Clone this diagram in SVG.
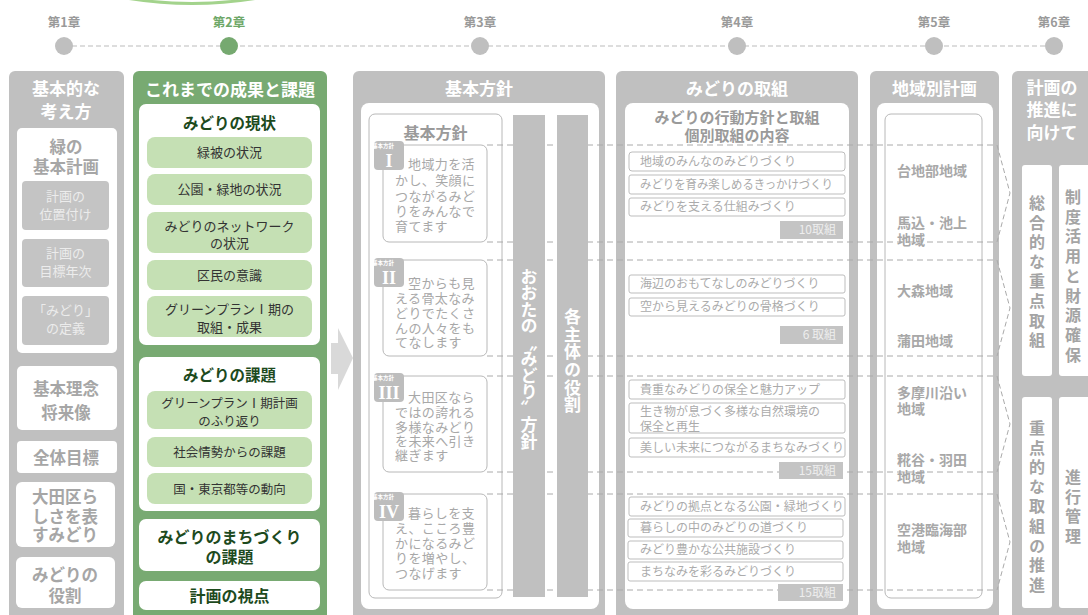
<svg xmlns="http://www.w3.org/2000/svg" width="1088" height="615" viewBox="0 0 1088 615">
<style>
text{font-family:"Noto Sans CJK JP","Noto Sans",sans-serif;}
.tl{font-size:12.5px;font-weight:bold;fill:#9a9a9a;text-anchor:middle;}
.frame{fill:#c0c0c0;}
.wt{fill:#ffffff;}
.ttl{font-size:17px;font-weight:bold;fill:#ffffff;text-anchor:middle;}
.g1{font-size:16.5px;font-weight:bold;fill:#a6a6a6;text-anchor:middle;}
.sub{fill:#c4c4c4;}
.subt{font-size:13px;fill:#ececec;text-anchor:middle;}
.lg{fill:#c5e0b4;}
.gt{font-size:13px;fill:#333333;text-anchor:middle;}
.gh{font-size:15.5px;font-weight:bold;fill:#1d4a1d;text-anchor:middle;}
.gh2{font-size:16px;font-weight:bold;fill:#1d4a1d;text-anchor:middle;}
.ol{fill:#ffffff;stroke:#b8b8b8;stroke-width:1;}
.hd{font-size:15px;font-weight:bold;fill:#9a9a9a;text-anchor:middle;}
.pt{font-size:13px;fill:#a8a8a8;letter-spacing:0.4px;}
.badge{fill:#bdbdbd;}
.bs{font-size:5.5px;font-weight:bold;fill:#ffffff;text-anchor:middle;}
.rn{font-family:"Liberation Serif",serif;font-size:18px;font-weight:bold;fill:#ffffff;text-anchor:middle;}
.bar{fill:#c0c0c0;}
.vt{font-size:17px;font-weight:bold;fill:#ffffff;writing-mode:vertical-rl;text-orientation:upright;}
.it{fill:#ffffff;stroke:#bdbdbd;stroke-width:1;}
.itt{font-size:12px;fill:#ababab;}
.cnt{fill:#c4c4c4;}
.cntt{font-size:12px;fill:#eeeeee;text-anchor:end;}
.rg{font-size:14px;font-weight:bold;fill:#a8a8a8;}
.vg{font-size:16px;font-weight:bold;fill:#a4a4a4;writing-mode:vertical-rl;text-orientation:upright;}
.dash{fill:none;stroke:#aaaaaa;stroke-width:1;stroke-dasharray:6 4;}
</style>

<!-- timeline -->
<g id="timeline">
  <path d="M126,-2 Q192,9 258,-2" fill="none" stroke="#a3d38c" stroke-width="3"/>
  <line x1="64" y1="46" x2="1054" y2="46" stroke="#bbbbbb" stroke-width="1.2" stroke-dasharray="5 3"/>
  <circle cx="64" cy="46" r="9" fill="#bfbfbf"/>
  <circle cx="229" cy="46" r="9" fill="#76a970"/>
  <circle cx="480" cy="46" r="9" fill="#bfbfbf"/>
  <circle cx="737" cy="46" r="9" fill="#bfbfbf"/>
  <circle cx="934" cy="46" r="9" fill="#bfbfbf"/>
  <circle cx="1054" cy="46" r="9" fill="#bfbfbf"/>
  <text class="tl" x="64" y="27">第1章</text>
  <text class="tl" x="229" y="27" style="fill:#6fa869">第2章</text>
  <text class="tl" x="480" y="27">第3章</text>
  <text class="tl" x="737" y="27">第4章</text>
  <text class="tl" x="934" y="27">第5章</text>
  <text class="tl" x="1054" y="27">第6章</text>
</g>

<!-- column 1 -->
<g id="col1">
  <rect class="frame" x="9" y="71" width="115" height="560" rx="6"/>
  <text class="ttl" x="66" y="95">基本的な</text>
  <text class="ttl" x="66" y="118">考え方</text>
  <rect class="wt" x="17" y="128" width="100" height="225" rx="5"/>
  <text class="g1" x="66" y="153">緑の</text>
  <text class="g1" x="66" y="173">基本計画</text>
  <rect class="sub" x="22" y="181" width="87" height="49" rx="4"/>
  <text class="subt" x="65.5" y="200.5">計画の</text>
  <text class="subt" x="65.5" y="218.5">位置付け</text>
  <rect class="sub" x="22" y="239" width="87" height="48" rx="4"/>
  <text class="subt" x="65.5" y="258">計画の</text>
  <text class="subt" x="65.5" y="276">目標年次</text>
  <rect class="sub" x="22" y="296" width="87" height="49" rx="4"/>
  <text class="subt" x="65.5" y="315">「みどり」</text>
  <text class="subt" x="65.5" y="333">の定義</text>
  <rect class="wt" x="17" y="366" width="100" height="64" rx="5"/>
  <text class="g1" x="66" y="395">基本理念</text>
  <text class="g1" x="66" y="419">将来像</text>
  <rect class="wt" x="17" y="441" width="100" height="32" rx="4"/>
  <text class="g1" x="66" y="464">全体目標</text>
  <rect class="wt" x="16" y="482" width="99" height="65" rx="6"/>
  <text class="g1" x="65" y="503">大田区ら</text>
  <text class="g1" x="65" y="523">しさを表</text>
  <text class="g1" x="65" y="541">すみどり</text>
  <rect class="wt" x="16" y="557" width="99" height="51" rx="6"/>
  <text class="g1" x="65" y="581">みどりの</text>
  <text class="g1" x="65" y="602">役割</text>
</g>

<!-- column 2 -->
<g id="col2">
  <rect x="133" y="71" width="194" height="560" rx="6" fill="#78aa72"/>
  <text class="ttl" x="230" y="96">これまでの成果と課題</text>
  <rect class="wt" x="139" y="104" width="181" height="241" rx="7"/>
  <text class="gh" x="229.5" y="128.5">みどりの現状</text>
  <rect class="lg" x="147" y="137" width="165" height="31" rx="8"/>
  <text class="gt" x="229.5" y="157">緑被の状況</text>
  <rect class="lg" x="147" y="174" width="165" height="31" rx="8"/>
  <text class="gt" x="229.5" y="194">公園・緑地の状況</text>
  <rect class="lg" x="147" y="212" width="165" height="41" rx="8"/>
  <text class="gt" x="229.5" y="230.5">みどりのネットワーク</text>
  <text class="gt" x="229.5" y="247.5">の状況</text>
  <rect class="lg" x="147" y="260" width="165" height="30" rx="8"/>
  <text class="gt" x="229.5" y="279.5">区民の意識</text>
  <rect class="lg" x="147" y="296" width="165" height="41" rx="8"/>
  <text class="gt" x="229.5" y="313.5">グリーンプランⅠ期の</text>
  <text class="gt" x="229.5" y="331.5">取組・成果</text>

  <rect class="wt" x="139" y="357" width="181" height="154" rx="7"/>
  <text class="gh" x="229.5" y="380.5">みどりの課題</text>
  <rect class="lg" x="147" y="391" width="165" height="38" rx="8"/>
  <text class="gt" x="229.5" y="407.5" style="font-size:12.5px">グリーンプランⅠ期計画</text>
  <text class="gt" x="229.5" y="425.5" style="font-size:12.5px">のふり返り</text>
  <rect class="lg" x="147" y="437" width="165" height="30" rx="8"/>
  <text class="gt" x="229.5" y="456.5" style="font-size:12.5px">社会情勢からの課題</text>
  <rect class="lg" x="147" y="473" width="165" height="31" rx="8"/>
  <text class="gt" x="229.5" y="493.5" style="font-size:12.5px">国・東京都等の動向</text>

  <rect class="wt" x="139" y="519" width="181" height="52" rx="7"/>
  <text class="gh2" x="229.5" y="542.5">みどりのまちづくり</text>
  <text class="gh2" x="229.5" y="562.5">の課題</text>
  <rect class="wt" x="139" y="581" width="181" height="29" rx="7"/>
  <text class="gh2" x="229.5" y="601.5">計画の視点</text>
</g>

<!-- arrow -->
<g id="arrow">
  <polygon points="331,343 338,343 338,328 353,358 338,390 338,374 331,374" fill="#d9d9d9"/>
</g>

<!-- column 3 backgrounds -->
<g id="col3">
  <rect class="frame" x="353" y="71" width="252" height="560" rx="6"/>
  <text class="ttl" x="479" y="95">基本方針</text>
  <rect class="wt" x="361" y="103" width="238" height="506" rx="8"/>
  <rect class="ol" x="369" y="114" width="133" height="484" rx="6"/>
  <text class="hd" x="435.5" y="138.5" style="font-size:16px">基本方針</text>
</g>

<!-- column 4 backgrounds -->
<g id="col4">
  <rect class="frame" x="616" y="71" width="242" height="560" rx="6"/>
  <text class="ttl" x="737" y="95">みどりの取組</text>
  <rect class="wt" x="625" y="103" width="224" height="506" rx="8"/>
  <text class="hd" x="737" y="123">みどりの行動方針と取組</text>
  <text class="hd" x="737" y="141">個別取組の内容</text>
</g>

<!-- column 5 backgrounds -->
<g id="col5">
  <rect class="frame" x="870" y="71" width="129" height="560" rx="6"/>
  <text class="ttl" x="934.5" y="95">地域別計画</text>
  <rect class="wt" x="877" y="103" width="116" height="506" rx="8"/>
  <rect class="ol" x="885" y="114" width="97" height="484" rx="6"/>
</g>

<!-- column 6 -->
<g id="col6">
  <rect class="frame" x="1012" y="71" width="100" height="560" rx="6"/>
  <text class="ttl" x="1052" y="94">計画の</text>
  <text class="ttl" x="1052" y="116">推進に</text>
  <text class="ttl" x="1052" y="139">向けて</text>
  <rect class="wt" x="1022" y="165" width="30" height="211" rx="3"/>
  <rect class="wt" x="1059" y="165" width="40" height="211" rx="3"/>
  <rect class="wt" x="1022" y="397" width="30" height="211" rx="3"/>
  <rect class="wt" x="1059" y="397" width="40" height="211" rx="3"/>
  <text class="vg" x="1037" y="195" style="letter-spacing:3.6px">総合的な重点取組</text>
  <text class="vg" x="1073" y="189" style="letter-spacing:3.7px">制度活用と財源確保</text>
  <text class="vg" x="1037" y="420" style="letter-spacing:3.6px">重点的な取組の推進</text>
  <text class="vg" x="1073" y="469" style="letter-spacing:3.5px">進行管理</text>
</g>

<!-- connectors -->
<g id="connectors">
  <line class="dash" x1="487" y1="145" x2="997" y2="145"/>
  <line class="dash" x1="487" y1="242" x2="997" y2="242"/>
  <line class="dash" x1="487" y1="260" x2="997" y2="260"/>
  <line class="dash" x1="487" y1="356" x2="997" y2="356"/>
  <line class="dash" x1="487" y1="376" x2="997" y2="376"/>
  <line class="dash" x1="487" y1="472" x2="997" y2="472"/>
  <line class="dash" x1="487" y1="494" x2="997" y2="494"/>
  <line class="dash" x1="487" y1="590" x2="997" y2="590"/>
  <polyline class="dash" points="997,145 1010,193 997,242" style="stroke-dasharray:5 3"/>
  <polyline class="dash" points="997,260 1010,308 997,356" style="stroke-dasharray:5 3"/>
  <polyline class="dash" points="997,376 1010,424 997,472" style="stroke-dasharray:5 3"/>
  <polyline class="dash" points="997,494 1010,542 997,590" style="stroke-dasharray:5 3"/>
</g>

<!-- vertical bars -->
<g id="bar-ota">
  <rect class="bar" x="513" y="115" width="32" height="482"/>
  <text class="vt" x="529" y="268" style="letter-spacing:-0.5px">おおたの〝みどり〟方針</text>
</g>
<g id="bar-actors">
  <rect class="bar" x="557" y="115" width="31" height="482"/>
  <text class="vt" x="572.5" y="308" style="letter-spacing:0.7px">各主体の役割</text>
</g>

<!-- policies -->
<g id="policy1">
  <rect class="ol" x="383" y="145" width="104" height="97" rx="6"/>
  <rect class="badge" x="374" y="141" width="30" height="29" rx="4"/>
  <text class="bs" x="383" y="148">基本方針</text>
  <text class="rn" x="389" y="167">I</text>
  <text class="pt" x="408" y="169">地域力を活</text>
  <text class="pt" x="395" y="185">かし、笑顔に</text>
  <text class="pt" x="395" y="201">つながるみど</text>
  <text class="pt" x="395" y="216">りをみんなで</text>
  <text class="pt" x="395" y="231">育てます</text>
</g>
<g id="policy2">
  <rect class="ol" x="383" y="260" width="104" height="96" rx="6"/>
  <rect class="badge" x="374" y="258" width="30" height="29" rx="4"/>
  <text class="bs" x="383" y="265">基本方針</text>
  <text class="rn" x="389" y="284">II</text>
  <text class="pt" x="408" y="288">空からも見</text>
  <text class="pt" x="395" y="303">える骨太なみ</text>
  <text class="pt" x="395" y="318">どりでたくさ</text>
  <text class="pt" x="395" y="333">んの人々をも</text>
  <text class="pt" x="395" y="347">てなします</text>
</g>
<g id="policy3">
  <rect class="ol" x="383" y="376" width="104" height="96" rx="6"/>
  <rect class="badge" x="374" y="373" width="30" height="29" rx="4"/>
  <text class="bs" x="383" y="380">基本方針</text>
  <text class="rn" x="389" y="399">III</text>
  <text class="pt" x="408" y="402">大田区なら</text>
  <text class="pt" x="395" y="417">ではの誇れる</text>
  <text class="pt" x="395" y="432">多様なみどり</text>
  <text class="pt" x="395" y="446">を未来へ引き</text>
  <text class="pt" x="395" y="460">継ぎます</text>
</g>
<g id="policy4">
  <rect class="ol" x="383" y="494" width="104" height="96" rx="6"/>
  <rect class="badge" x="374" y="492" width="30" height="29" rx="4"/>
  <text class="bs" x="383" y="499">基本方針</text>
  <text class="rn" x="389" y="518">IV</text>
  <text class="pt" x="408" y="518">暮らしを支</text>
  <text class="pt" x="395" y="533">え、こころ豊</text>
  <text class="pt" x="395" y="548">かになるみど</text>
  <text class="pt" x="395" y="563">りを増やし、</text>
  <text class="pt" x="395" y="578">つなげます</text>
</g>

<!-- actions -->
<g id="actions1">
  <rect class="it" x="629" y="152" width="216" height="19" rx="3"/>
  <text class="itt" x="640" y="166">地域のみんなのみどりづくり</text>
  <rect class="it" x="629" y="175" width="216" height="19" rx="2"/>
  <text class="itt" x="640" y="189" textLength="193" lengthAdjust="spacingAndGlyphs">みどりを育み楽しめるきっかけづくり</text>
  <rect class="it" x="629" y="198" width="216" height="18" rx="2"/>
  <text class="itt" x="640" y="211">みどりを支える仕組みづくり</text>
  <rect class="cnt" x="780" y="221" width="63" height="18"/>
  <text class="cntt" x="836" y="234">10取組</text>
</g>
<g id="actions2">
  <rect class="it" x="629" y="275" width="216" height="18" rx="2"/>
  <text class="itt" x="640" y="288">海辺のおもてなしのみどりづくり</text>
  <rect class="it" x="629" y="298" width="216" height="18" rx="2"/>
  <text class="itt" x="640" y="311">空から見えるみどりの骨格づくり</text>
  <rect class="cnt" x="780" y="326" width="63" height="18"/>
  <text class="cntt" x="836" y="339">6 取組</text>
</g>
<g id="actions3">
  <rect class="it" x="629" y="380" width="216" height="19" rx="2"/>
  <text class="itt" x="640" y="394">貴重なみどりの保全と魅力アップ</text>
  <rect class="it" x="629" y="403" width="216" height="30" rx="2"/>
  <text class="itt" x="640" y="416">生き物が息づく多様な自然環境の</text>
  <text class="itt" x="640" y="431">保全と再生</text>
  <rect class="it" x="629" y="438" width="216" height="19" rx="2"/>
  <text class="itt" x="640" y="452">美しい未来につながるまちなみづくり</text>
  <rect class="cnt" x="779" y="462" width="64" height="17"/>
  <text class="cntt" x="836" y="475">15取組</text>
</g>
<g id="actions4">
  <rect class="it" x="629" y="497" width="216" height="19" rx="2"/>
  <text class="itt" x="640" y="511">みどりの拠点となる公園・緑地づくり</text>
  <rect class="it" x="628" y="519" width="215" height="18" rx="2"/>
  <text class="itt" x="640" y="532">暮らしの中のみどりの道づくり</text>
  <rect class="it" x="628" y="541" width="215" height="18" rx="2"/>
  <text class="itt" x="640" y="554">みどり豊かな公共施設づくり</text>
  <rect class="it" x="628" y="562" width="215" height="19" rx="2"/>
  <text class="itt" x="640" y="576">まちなみを彩るみどりづくり</text>
  <rect class="cnt" x="778" y="584" width="65" height="17"/>
  <text class="cntt" x="836" y="597">15取組</text>
</g>

<!-- regions -->
<g id="regions">
  <text class="rg" x="897" y="176">台地部地域</text>
  <text class="rg" x="897" y="228">馬込・池上</text>
  <text class="rg" x="897" y="245">地域</text>
  <text class="rg" x="897" y="296">大森地域</text>
  <text class="rg" x="897" y="346">蒲田地域</text>
  <text class="rg" x="897" y="398">多摩川沿い</text>
  <text class="rg" x="897" y="414">地域</text>
  <text class="rg" x="897" y="465">糀谷・羽田</text>
  <text class="rg" x="897" y="482">地域</text>
  <text class="rg" x="897" y="535">空港臨海部</text>
  <text class="rg" x="897" y="552">地域</text>
</g>
</svg>
